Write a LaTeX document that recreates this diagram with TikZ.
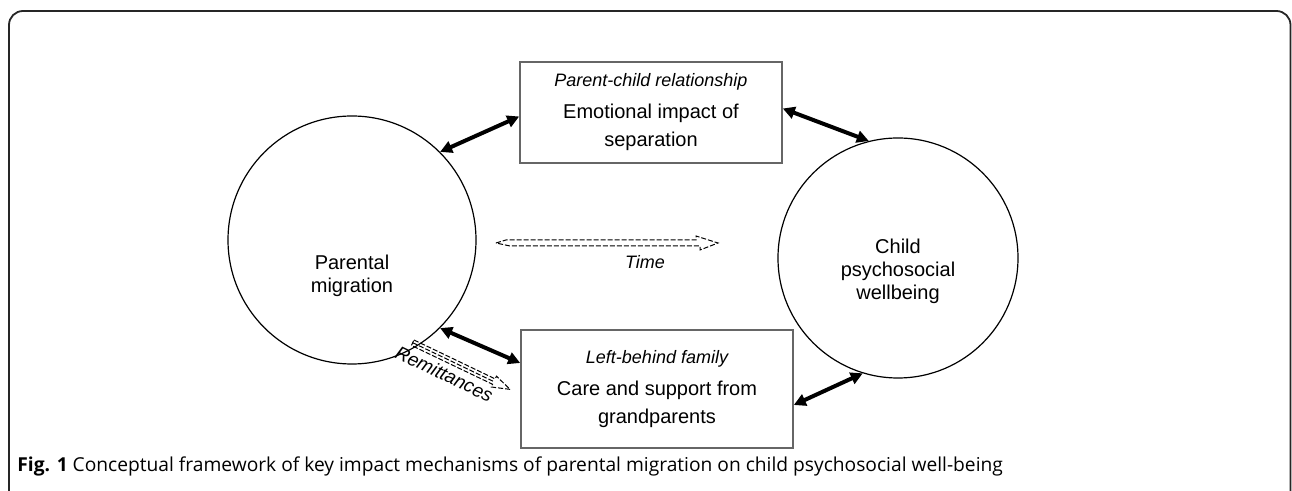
\documentclass[tikz,border=0pt]{standalone}
\usepackage{fontspec}
\setmainfont{Liberation Sans}
\newfontfamily\captionfont{Open Sans}
\usetikzlibrary{arrows.meta}

\tikzset{
  boxnode/.style={draw=black!60, line width=0.8pt, align=center, inner sep=0pt,
    minimum width=#1, font=\fontsize{10}{14}\selectfont},
  circnode/.style={draw, circle, line width=0.6pt, minimum size=#1, inner sep=0pt,
    align=center, font=\fontsize{10}{11.5}\selectfont},
  twoway/.style={line width=2pt,
    {Triangle[length=6pt,width=6pt]}-{Triangle[length=6pt,width=6pt]}},
  dashedarrow/.style={dashed, dash pattern=on 2.5pt off 1pt, line width=0.5pt}
}

\begin{document}
\begin{tikzpicture}[x=0.5pt, y=-0.5pt]
  \useasboundingbox (0, 0) rectangle (1292, 491);
  % frame
  \draw [black!85, line width=0.9pt, rounded corners=7pt]
  (9, 491) -- (9, 11) -- (1290.5, 11) -- (1290.5, 491);

  % circles
  \node [circnode=124pt] (migration) at (352, 240) {};
  \node [font=\fontsize{10}{11.5}\selectfont, align=center] (migtext) at (352, 276)
  {Parental\\migration};
  \node [circnode=120pt] (wellbeing) at (898, 258) {};
  \node [font=\fontsize{10}{11.5}\selectfont, align=center] (welltext) at (898, 271)
  {Child\\psychosocial\\wellbeing};

  % boxes
  \node [boxnode=131pt, minimum height=50.5pt] (separation) at (651, 112.5)
  {{\fontsize{9}{11}\itshape Parent-child relationship}\\[2pt]
    Emotional impact of\\separation};
  \node [boxnode=136pt, minimum height=59pt] (family) at (657, 389)
  {{\fontsize{9}{11}\itshape Left-behind family}\\[2pt]
    Care and support from\\grandparents};

  % two-way links
  \draw [twoway] (migration.45) -- ([yshift=-2pt]separation.west);
  \draw [twoway] ([yshift=2pt]separation.east) -- (wellbeing.104);
  \draw [twoway] (migration.-45) -- ([yshift=13pt]family.west);
  \draw [twoway] ([yshift=-8pt]family.east) -- (wellbeing.-107);

  % time
  \coordinate (tstart) at (496, 243);
  \coordinate (tend) at (718, 243);
  \draw [dashedarrow] (tstart) -- ++(10, -3) -- ++(190, 0) -- ++(0, -4)
  -- (tend) -- ++(-18, 7) -- ++(0, -4) -- ++(-190, 0) -- cycle;
  \node [font=\fontsize{9}{11}\itshape\selectfont] (time) at (645, 262) {Time};

  % remittances
  \begin{scope}[shift={(414, 340)}, rotate=-25.6]
    \coordinate (rstart) at (0, 0);
    \draw [dashedarrow] (rstart) -- (90, 0) -- (90, -3) -- (108, 3)
    -- (90, 9) -- (90, 6) -- (0, 6) -- cycle;
    \draw [dashedarrow] (0, 3) -- (90, 3);
    \node [font=\fontsize{9.5}{11}\itshape\selectfont, anchor=north,
    rotate=-25.6, inner sep=0pt] (remit) at (42, 10) {Remittances};
  \end{scope}

  % caption
  \node [anchor=base west, inner sep=0pt,
  font=\captionfont\fontsize{9.6}{11}\selectfont] (caption) at (17, 472)
  {\textbf{Fig. 1} Conceptual framework of key impact mechanisms of parental
    migration on child psychosocial well-being};
\end{tikzpicture}
\end{document}
